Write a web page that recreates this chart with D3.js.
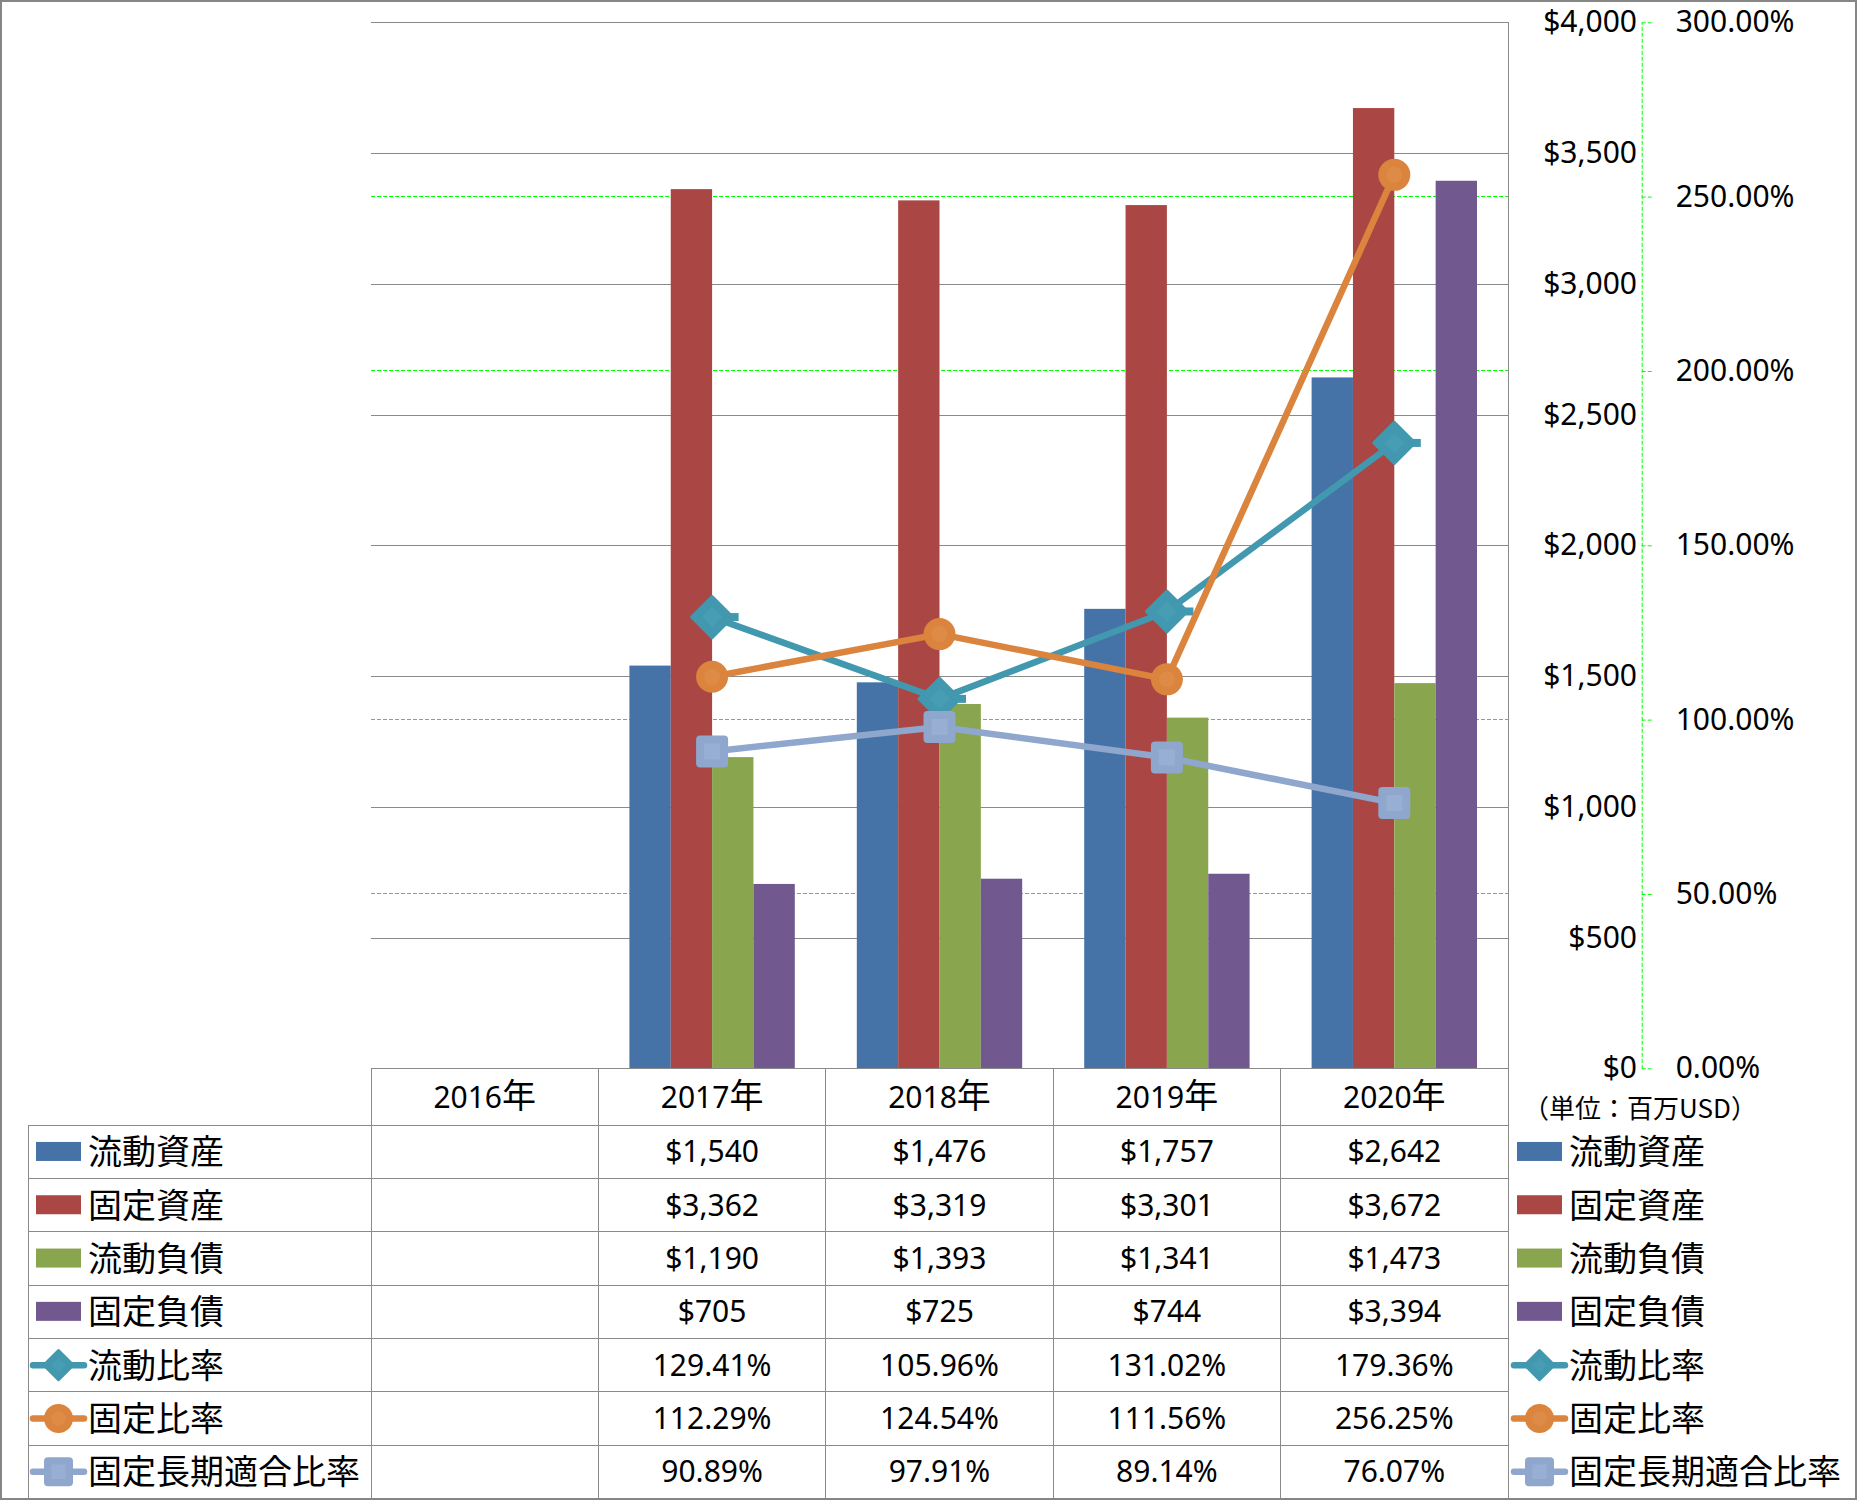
<!DOCTYPE html>
<html><head><meta charset="utf-8">
<script src="https://cdn.jsdelivr.net/npm/d3@7"></script>
<style>body{margin:0;background:#fff}svg{display:block}</style>
</head><body>
<svg id="c" width="1857" height="1500"></svg>
<script>
// ---- data ----
const categories = ["2016年","2017年","2018年","2019年","2020年"];
const barNames = ["流動資産","固定資産","流動負債","固定負債"];
const currentAssets = [null,1540,1476,1757,2642];
const fixedAssets = [null,3362,3319,3301,3672];
const currentLiab = [null,1190,1393,1341,1473];
const fixedLiab = [null,705,725,744,3394];
const lineNames = ["流動比率","固定比率","固定長期適合比率"];
const currentRatio = [null,129.41,105.96,131.02,179.36];
const fixedRatio = [null,112.29,124.54,111.56,256.25];
const fixedLongRatio = [null,90.89,97.91,89.14,76.07];
const leftTicks = [0,500,1000,1500,2000,2500,3000,3500,4000];
const rightTicks = [0,50,100,150,200,250,300];
const unitLabel = "（単位：百万USD）";

const barData = [currentAssets,fixedAssets,currentLiab,fixedLiab];
const lineData = [currentRatio,fixedRatio,fixedLongRatio];
const barColors = ["#4572A7","#AA4643","#89A54E","#71588F"];
const lineColors = ["#4198AF","#DB843D","#8FA6CD"];
const markerFill = ["#4198AF","#DB843D","#8FA6CD"];
const markerInner = ["#479DB4","#DE8B48","#98AFD3"];
const markerTypes = ["diamond","circle","square"];

const svg = d3.select("#c");
const W=1857,H=1500;
const plotL=371, plotR=1508, plotT=22.3, plotB=1068.3;
const tableL=28.6, headH=57, rowH=53.3;
const gridCol="#8a8a8a";
const LAT="'Noto Sans','Noto Sans CJK JP',sans-serif";
const CJK="'Noto Sans CJK JP',sans-serif";

const x = d3.scaleBand().domain(categories).range([plotL,plotR]).padding(0);
const bw = x.bandwidth();
const xb = d3.scaleBand().domain(d3.range(4)).range([bw*0.75/5.5, bw - bw*0.75/5.5]).padding(0);
const y = d3.scaleLinear().domain([0,4000]).range([plotB,plotT]);
const y2 = d3.scaleLinear().domain([0,300]).range([plotB,plotT]);

// secondary gridlines (green dashed)
svg.append("g").attr("shape-rendering","crispEdges").selectAll("line").data(rightTicks).join("line")
  .attr("x1",plotL).attr("x2",plotR).attr("y1",d=>y2(d)).attr("y2",d=>y2(d))
  .attr("stroke","#00FF00").attr("stroke-width",1).attr("stroke-dasharray","4,2");
// primary gridlines
const gGrid = svg.append("g").attr("transform",`translate(${plotL},0)`).attr("shape-rendering","crispEdges")
  .call(d3.axisLeft(y).tickValues(leftTicks).tickSize(-(plotR-plotL)).tickFormat(""));
gGrid.select(".domain").remove();
gGrid.selectAll("line").attr("stroke",gridCol).attr("stroke-width",1);

// plot right border
svg.append("line").attr("x1",plotR).attr("x2",plotR).attr("y1",plotT).attr("y2",plotB)
  .attr("stroke",gridCol).attr("stroke-width",1).attr("shape-rendering","crispEdges");

// bars
barData.forEach((vals,si)=>{
  svg.append("g").selectAll("rect").data(categories.map((c,i)=>({c,v:vals[i]})).filter(d=>d.v!=null))
    .join("rect")
    .attr("x",d=>x(d.c)+xb(si)).attr("width",xb.bandwidth())
    .attr("y",d=>y(d.v)).attr("height",d=>y(0)-y(d.v))
    .attr("fill",barColors[si]);
});

// markers
function marker(g, type, cx, cy, s, si, stub){
  if(type==="diamond"){
    const r=s/2-1.5;
    if(stub) g.append("rect").attr("x",cx+r-4).attr("y",cy-4).attr("width",10).attr("height",8).attr("fill",markerFill[si]);
    g.append("path").attr("d",`M${cx},${cy-r}L${cx+r},${cy}L${cx},${cy+r}L${cx-r},${cy}Z`)
      .attr("fill",markerFill[si]).attr("stroke",markerFill[si]).attr("stroke-width",3).attr("stroke-linejoin","round");
    const q=r*0.5;
    g.append("path").attr("d",`M${cx},${cy-q}L${cx+q},${cy}L${cx},${cy+q}L${cx-q},${cy}Z`).attr("fill",markerInner[si]);
  } else if(type==="circle"){
    g.append("circle").attr("cx",cx).attr("cy",cy).attr("r",s/2).attr("fill",markerFill[si]);
    g.append("circle").attr("cx",cx).attr("cy",cy).attr("r",s/4).attr("fill",markerInner[si]);
  } else {
    g.append("rect").attr("x",cx-s/2).attr("y",cy-s/2).attr("width",s).attr("height",s).attr("rx",4).attr("fill",markerFill[si]);
    g.append("rect").attr("x",cx-s/4).attr("y",cy-s/4).attr("width",s/2).attr("height",s/2).attr("fill",markerInner[si]);
  }
}

// lines
lineData.forEach((vals,si)=>{
  const pts = categories.map((c,i)=>({c,v:vals[i]})).filter(d=>d.v!=null);
  const line = d3.line().x(d=>x(d.c)+bw/2).y(d=>y2(d.v));
  svg.append("path").attr("d",line(pts)).attr("fill","none")
    .attr("stroke",lineColors[si]).attr("stroke-width",6.5).attr("stroke-linejoin","round");
  const g = svg.append("g");
  const size = markerTypes[si]==="diamond"?44:32;
  pts.forEach(d=>marker(g,markerTypes[si],x(d.c)+bw/2,y2(d.v),size,si,true));
});

// left value axis (labels right of plot)
const gL = svg.append("g").attr("transform","translate(1637,0)")
  .call(d3.axisLeft(y).tickValues(leftTicks).tickSize(0).tickPadding(0).tickFormat(d=>"$"+d3.format(",")(d)));
gL.select(".domain").remove();
gL.selectAll("text").attr("font-family",LAT).attr("font-size",30).attr("fill","#000");

// secondary axis
const gR = svg.append("g").attr("transform","translate(1641.7,0)")
  .call(d3.axisRight(y2).tickValues(rightTicks).tickSize(11).tickSizeOuter(0).tickPadding(23).tickFormat(d=>d3.format(".2f")(d)+"%"));
gR.select(".domain").attr("stroke","#00FF00").attr("stroke-dasharray","4,2");
gR.selectAll(".tick line").attr("stroke","#00FF00").attr("stroke-dasharray","4,2");
gR.selectAll("text").attr("font-family",LAT).attr("font-size",30).attr("fill","#000");

// unit label
svg.append("text").attr("x",1640).attr("y",1118).attr("text-anchor","middle")
  .attr("font-family",CJK).attr("font-size",26).attr("fill","#000").text(unitLabel);

// ---- data table ----
const tb = svg.append("g").attr("shape-rendering","crispEdges");
const tableTop = plotB, rowsTop = plotB+headH, tableBot = rowsTop+7*rowH;
const tl = (x1,y1,x2,y2)=>tb.append("line").attr("x1",x1).attr("x2",x2).attr("y1",y1).attr("y2",y2).attr("stroke",gridCol).attr("stroke-width",1);
tl(plotL,tableTop,plotR,tableTop);
d3.range(8).forEach(i=>tl(tableL,rowsTop+i*rowH,plotR,rowsTop+i*rowH));
tl(tableL,rowsTop,tableL,tableBot);
categories.forEach(c=>tl(x(c),tableTop,x(c),tableBot));
tl(plotR,tableTop,plotR,tableBot);

const CJKRE=/[\u3000-\u30ff\u4e00-\u9fff\uff00-\uffef]/;
function rich(sel,str){
  const parts = str.match(/[\u3000-\u30ff\u4e00-\u9fff\uff00-\uffef]+|[^\u3000-\u30ff\u4e00-\u9fff\uff00-\uffef]+/g);
  parts.forEach(p=>{
    const cj = CJKRE.test(p);
    sel.append("tspan").attr("font-size",cj?34:30).attr("font-family",cj?CJK:LAT).text(p);
  });
}
// header
categories.forEach(c=>{
  const t = tb.append("text").attr("x",x(c)+bw/2).attr("y",tableTop+headH/2+11).attr("text-anchor","middle").attr("fill","#000");
  rich(t,c);
});
// rows
const allNames = barNames.concat(lineNames);
const allVals = barData.concat(lineData);
allVals.forEach((vals,ri)=>{
  const cy = rowsTop+ri*rowH+rowH/2;
  vals.forEach((v,ci)=>{
    if(v==null) return;
    const s = ri<4 ? "$"+d3.format(",")(v) : d3.format(".2f")(v)+"%";
    tb.append("text").attr("x",x(categories[ci])+bw/2).attr("y",cy+10.5).attr("text-anchor","middle")
      .attr("font-family",LAT).attr("font-size",30).attr("fill","#000").text(s);
  });
});

// legend keys (left in table, right outside)
function legendKey(g, ri, kx){
  const cy = rowsTop+ri*rowH+rowH/2;
  if(ri<4){
    g.append("rect").attr("x",kx).attr("y",cy-10).attr("width",45).attr("height",19).attr("fill",barColors[ri]);
  } else {
    const si=ri-4;
    g.append("line").attr("x1",kx-3).attr("x2",kx+48).attr("y1",cy).attr("y2",cy)
      .attr("stroke",lineColors[si]).attr("stroke-width",6.5).attr("stroke-linecap","round");
    marker(g,markerTypes[si],kx+22.5,cy,markerTypes[si]==="diamond"?32:29,si,false);
  }
  g.append("text").attr("x",kx+52).attr("y",cy+12.5).attr("font-family",CJK).attr("font-size",34)
    .attr("fill","#000").text(allNames[ri]);
}
const lg = svg.append("g");
allNames.forEach((n,ri)=>{ legendKey(lg,ri,36); legendKey(lg,ri,1517); });

// outer border
svg.append("rect").attr("x",1).attr("y",1).attr("width",W-2).attr("height",H-2)
  .attr("fill","none").attr("stroke","#868686").attr("stroke-width",2);
</script>
</body></html>
